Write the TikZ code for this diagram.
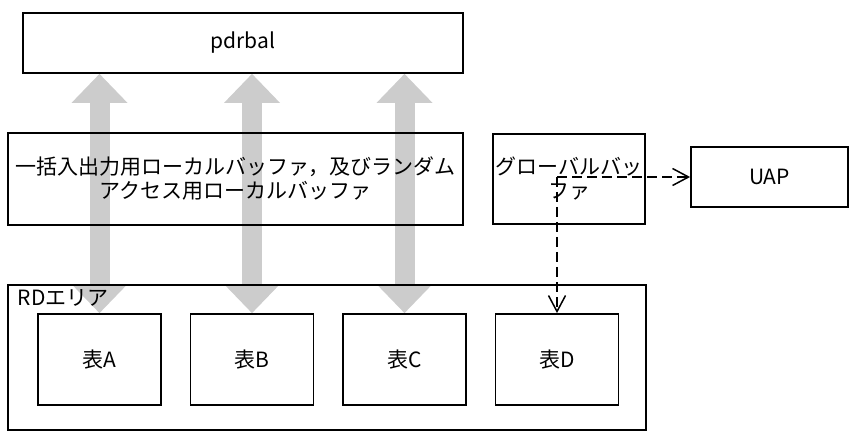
\documentclass[tikz,border=0pt]{standalone}
\usepackage{fontspec}
\setmainfont{Noto Sans CJK JP}
\usetikzlibrary{positioning,arrows.meta,backgrounds}

\begin{document}
\begin{tikzpicture}[
  x=1pt,y=-1pt,
  box/.style={draw,line width=0.9pt,align=center,inner sep=0pt,font=\fontsize{10.5pt}{12pt}\selectfont},
  tbl/.style={box,minimum width=61.5pt,minimum height=45.5pt},
  flow/.style={line width=10pt,draw=gray!40,
    {Triangle[length=14.5pt,width=28pt,line width=0pt]}-{Triangle[length=14.5pt,width=28pt,line width=0pt]}},
  ref/.style={draw,line width=0.75pt,dash pattern=on 5pt off 2.5pt,-{Straight Barb[length=8pt,width=8.5pt]}}]
\useasboundingbox (0,0) rectangle (424.5,216);
\node[box,minimum width=220pt,minimum height=30pt] (pdr) at (121.5,21.5) {pdrbal};
\node[box,minimum width=227.5pt,minimum height=46pt] (lbuf) at (117.75,89.5)
  {一括入出力用ローカルバッファ，及びランダム\\アクセス用ローカルバッファ};
\node[box,minimum width=76pt,minimum height=45pt] (gbuf) at (284.5,89.5) {グローバルバッ\\ファ};
\node[box,minimum width=78.5pt,minimum height=30pt] (uap) at (384.75,88.5) {UAP};
\node[box,minimum width=319pt,minimum height=72.5pt] (rd) at (163.5,178.75) {};
\node[box,draw=none,anchor=north west,inner sep=1pt] (rdlbl) at ([xshift=4pt,yshift=-1.5pt]rd.north west) {RDエリア};
\node[tbl] (tabA) at (49.75,179.75) {表A};
\node[tbl,right=13.85pt of tabA] (tabB) {表B};
\node[tbl,right=13.85pt of tabB] (tabC) {表C};
\node[tbl,right=13.85pt of tabC] (tabD) {表D};
\coordinate (jn) at (tabD.north |- uap.west);
\begin{scope}[on background layer]
\draw[flow] (tabA.north |- pdr.south) -- (tabA.north);
\draw[flow] (tabB.north |- pdr.south) -- (tabB.north);
\draw[flow] (tabC.north |- pdr.south) -- (tabC.north);
\end{scope}
\draw[ref] (jn) -- (uap.west);
\draw[ref] (jn) -- (tabD.north);
\end{tikzpicture}
\end{document}
